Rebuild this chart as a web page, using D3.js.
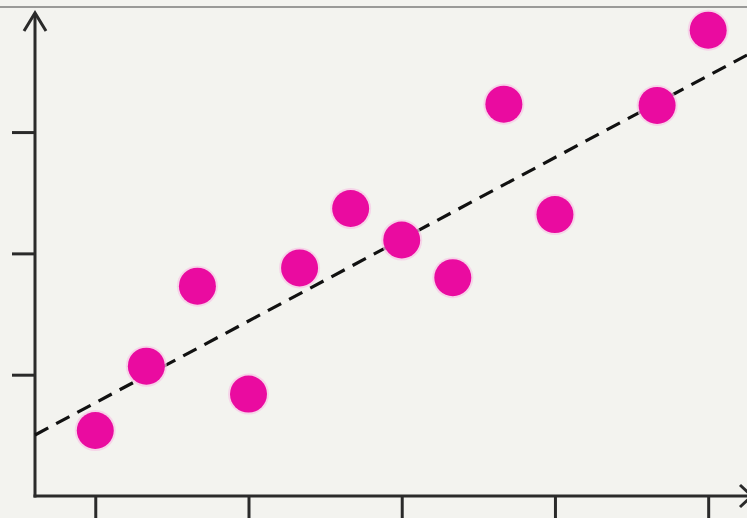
<!DOCTYPE html>
<html><head><meta charset="utf-8">
<script src="https://cdn.jsdelivr.net/npm/d3@7"></script>
<style>html,body{margin:0;padding:0;background:#f3f3ef;}svg{display:block;}</style>
</head><body>
<svg id="c" width="747" height="518"></svg>
<script>
const xValues = [1, 2, 3, 4, 5, 6, 7, 8, 9, 10, 12, 13];
const yValues = [0.54, 1.07, 1.73, 0.84, 1.88, 2.37, 2.11, 1.80, 3.23, 2.32, 3.22, 3.84];
const xTicks = [1, 4, 7, 10, 13];
const yTicks = [1, 2, 3];
const trendX = [-0.18, 13.76];
const trendY = [0.503, 3.635];

const svg = d3.select("#c");
const x = d3.scaleLinear().domain([-0.18, 13.76]).range([35, 747]);
const y = d3.scaleLinear().domain([0, 3.965]).range([496, 15]);

// top border
svg.append("line").attr("x1", 0).attr("x2", 747).attr("y1", 7).attr("y2", 7)
  .attr("stroke", "#9a9a98").attr("stroke-width", 2);

// x axis ticks (downward)
const xAxis = d3.axisBottom(x).tickValues(xTicks).tickSize(24).tickFormat("");
const gx = svg.append("g").attr("transform", `translate(0,${y(0)})`).call(xAxis);
gx.select(".domain").remove();
gx.selectAll(".tick line").attr("stroke", "#2a2a2a").attr("stroke-width", 3);

// y axis ticks (leftward)
const yAxis = d3.axisLeft(y).tickValues(yTicks).tickSize(23).tickFormat("");
const gy = svg.append("g").attr("transform", `translate(${x(-0.18)},0)`).call(yAxis);
gy.select(".domain").remove();
gy.selectAll(".tick line").attr("stroke", "#2a2a2a").attr("stroke-width", 3);

// axis lines
const ax = x(-0.18), ay = y(0);
svg.append("line").attr("x1", ax).attr("x2", ax).attr("y1", ay + 1.5).attr("y2", 13)
  .attr("stroke", "#2a2a2a").attr("stroke-width", 3);
svg.append("line").attr("x1", ax - 1.5).attr("x2", 747).attr("y1", ay).attr("y2", ay)
  .attr("stroke", "#2a2a2a").attr("stroke-width", 3);
// arrows
svg.append("path").attr("d", `M${ax - 11},${31} L${ax},${13} L${ax + 11},${31}`)
  .attr("fill", "none").attr("stroke", "#2a2a2a").attr("stroke-width", 3).attr("stroke-linejoin", "miter");
svg.append("path").attr("d", `M${740},${ay - 11} L${752},${ay} L${740},${ay + 11}`)
  .attr("fill", "none").attr("stroke", "#2a2a2a").attr("stroke-width", 3);

// trend line
svg.append("line")
  .attr("x1", x(trendX[0])).attr("y1", y(trendY[0]))
  .attr("x2", x(trendX[1])).attr("y2", y(trendY[1]))
  .attr("stroke", "#111").attr("stroke-width", 3.2).attr("stroke-dasharray", "15,9");

// points
const pts = xValues.map((v, i) => ({x: v, y: yValues[i]}));
svg.append("g").selectAll("circle").data(pts).join("circle")
  .attr("cx", d => x(d.x)).attr("cy", d => y(d.y)).attr("r", 20.5)
  .attr("fill", "#f7c6e6").attr("opacity", 0.7);
svg.append("g").selectAll("circle").data(pts).join("circle")
  .attr("cx", d => x(d.x)).attr("cy", d => y(d.y)).attr("r", 18.5)
  .attr("fill", "#ea0ba0");
</script>
</body></html>
